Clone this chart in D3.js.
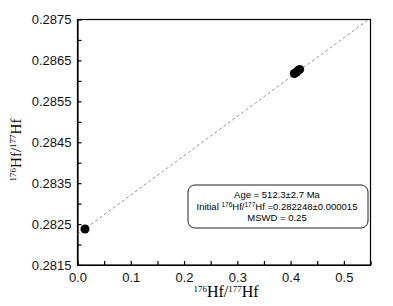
<!DOCTYPE html>
<meta charset="utf-8">
<style>
  body { margin: 0; background: #fff; }
  svg { font-family: Arial, "Liberation Sans", sans-serif; }
  .axis path, .axis line { stroke: #000; stroke-width: 1.2; }
  .axis text { font-size: 13px; fill: #111; }
</style>
<body>
<svg></svg>
<script src="https://d3js.org/d3.v7.min.js"></script>
<script>

// measured 176Yb/177Hf ratio (x) and 176Hf/177Hf (y)
var ratioX = [0.014, 0.407, 0.411, 0.414, 0.417];
var ratioY = [0.28238, 0.28618, 0.28621, 0.28625, 0.28628];

// isochron endpoints
var lineX = [0, 0.55];
var lineY = [0.282248, 0.287534];

var xTicks = [0, 0.05, 0.1, 0.15, 0.2, 0.25, 0.3, 0.35, 0.4, 0.45, 0.5, 0.55];
var yTicks = [0.2815, 0.282, 0.2825, 0.283, 0.2835, 0.284, 0.2845, 0.285, 0.2855, 0.286, 0.2865, 0.287, 0.2875];
var xLabelled = [0, 0.1, 0.2, 0.3, 0.4, 0.5];
var yLabelled = [0.2815, 0.2825, 0.2835, 0.2845, 0.2855, 0.2865, 0.2875];

var noteLines = ["Age = 512.3\u00b12.7 Ma", "initial", "MSWD = 0.25"];

var width = 393, height = 306;
var margin = {left: 77.5, right: 22.5, top: 19.5, bottom: 41};

var svg = d3.select('svg').attr('width', width).attr('height', height);

var x = d3.scaleLinear().domain([0, 0.55]).range([margin.left, width - margin.right]);
var y = d3.scaleLinear().domain([0.2815, 0.2875]).range([height - margin.bottom, margin.top]);

function near(list, v) { return list.some(function (d) { return Math.abs(d - v) < 1e-7; }); }

svg.append('defs').append('clipPath').attr('id', 'clip')
  .append('rect')
  .attr('x', x(0)).attr('y', y(0.2875))
  .attr('width', x(0.55) - x(0)).attr('height', y(0.2815) - y(0.2875));

// frame
svg.append('rect')
  .attr('x', x(0)).attr('y', y(0.2875))
  .attr('width', x(0.55) - x(0)).attr('height', y(0.2815) - y(0.2875))
  .attr('fill', 'none').attr('stroke', '#000').attr('stroke-width', 1.2);

svg.append('g').attr('class', 'axis')
  .attr('transform', 'translate(0,' + y(0.2815) + ')')
  .call(d3.axisBottom(x).tickValues(xTicks).tickSizeInner(-4).tickSizeOuter(0).tickPadding(8)
    .tickFormat(function (d) { return near(xLabelled, d) ? d3.format('.1f')(d) : ''; }));

svg.append('g').attr('class', 'axis')
  .attr('transform', 'translate(' + x(0) + ',0)')
  .call(d3.axisLeft(y).tickValues(yTicks).tickSizeInner(-4).tickSizeOuter(0).tickPadding(6)
    .tickFormat(function (d) { return near(yLabelled, d) ? d3.format('.4f')(d) : ''; }));

// isochron
svg.append('line')
  .attr('clip-path', 'url(#clip)')
  .attr('x1', x(lineX[0])).attr('y1', y(lineY[0]))
  .attr('x2', x(lineX[1])).attr('y2', y(lineY[1]))
  .attr('stroke', '#888').attr('stroke-width', 0.9)
  .attr('stroke-dasharray', '3,2.5');

svg.selectAll('.pt')
  .data(ratioX)
  .enter().append('circle').attr('class', 'pt')
  .attr('cx', function (d) { return x(d); })
  .attr('cy', function (d, i) { return y(ratioY[i]); })
  .attr('r', 4.5)
  .attr('fill', '#000');

// axis titles
function hfLabel(sel) {
  sel.append('tspan').attr('font-size', '9px').attr('dy', '-5').text('176');
  sel.append('tspan').attr('dy', '5').text('Hf/');
  sel.append('tspan').attr('font-size', '9px').attr('dy', '-5').text('177');
  sel.append('tspan').attr('dy', '5').text('Hf');
}

svg.append('text')
  .attr('x', (x(0) + x(0.55)) / 2 + 2).attr('y', 297)
  .attr('text-anchor', 'middle')
  .style('font-family', '"Liberation Serif", "Times New Roman", serif')
  .style('font-size', '16px')
  .call(hfLabel);

svg.append('text')
  .attr('transform', 'translate(21,150) rotate(-90)')
  .attr('text-anchor', 'middle')
  .style('font-family', '"Liberation Serif", "Times New Roman", serif')
  .style('font-size', '15px')
  .call(hfLabel);

// annotation box
var box = svg.append('g');
box.append('rect')
  .attr('x', 188).attr('y', 185).attr('width', 180).attr('height', 43)
  .attr('rx', 7).attr('fill', '#fff').attr('stroke', '#222').attr('stroke-width', 1);

box.selectAll('text.note')
  .data(noteLines)
  .enter().append('text').attr('class', 'note')
  .attr('x', 277)
  .attr('y', function (d, i) { return 198 + i * 11.5; })
  .attr('text-anchor', 'middle')
  .style('font-size', '9.5px')
  .each(function (d) {
    var t = d3.select(this);
    if (d !== 'initial') { t.text(d); return; }
    t.append('tspan').text('Initial ');
    t.append('tspan').attr('font-size', '6.5px').attr('dy', '-3').text('176');
    t.append('tspan').attr('dy', '3').text('Hf/');
    t.append('tspan').attr('font-size', '6.5px').attr('dy', '-3').text('177');
    t.append('tspan').attr('dy', '3').text('Hf =0.282248\u00b10.000015');
  });

</script>
</body>
